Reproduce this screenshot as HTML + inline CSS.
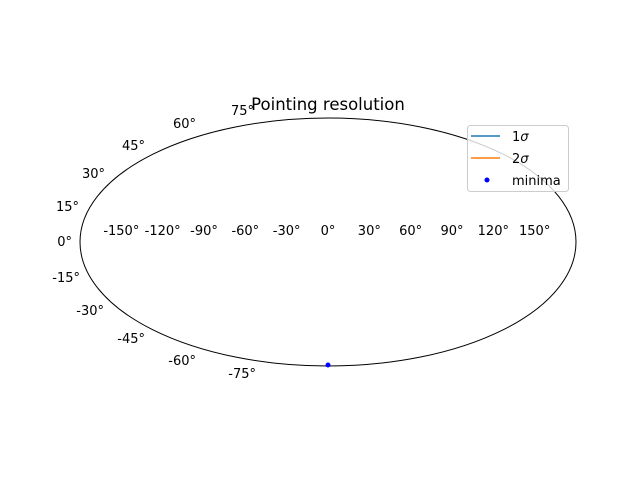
<!DOCTYPE html>
<html><head><meta charset="utf-8"><style>
body{margin:0;background:#fff}
svg text{font-family:"DejaVu Sans","Liberation Sans",sans-serif;fill:#000}
</style></head><body>
<svg width="640" height="480" viewBox="0 0 640 480">
<text x="328" y="110" font-size="16.5" text-anchor="middle">Pointing resolution</text>
<ellipse cx="328" cy="242" rx="248" ry="124" fill="none" stroke="#000" stroke-width="1"/>
<g id="lon"></g><g id="lat"></g><g id="marks"></g>
<g>
<rect x="467.5" y="125.5" width="101" height="66" rx="3" fill="#fff" fill-opacity="0.8" stroke="#ccc"/>
<line x1="471" y1="136" x2="500" y2="136" stroke="#1f77b4" stroke-width="1.5"/>
<text x="512" y="141" font-size="13">1<tspan font-style="italic">σ</tspan></text>
<line x1="471" y1="158" x2="500" y2="158" stroke="#ff7f0e" stroke-width="1.5"/>
<text x="512" y="163" font-size="13">2<tspan font-style="italic">σ</tspan></text>
<circle cx="487" cy="180" r="2.5" fill="#0000ff"/>
<text x="512" y="185" font-size="13">minima</text>
</g>
</svg>
<script>
const lonTicks=[-150,-120,-90,-60,-30,0,30,60,90,120,150];
const latTicks=[75,60,45,30,15,0,-15,-30,-45,-60,-75];
const minimaLon=[0];
const minimaLat=[-90];
const cx=328,cy=242,rx=248,ry=124;
function theta(phi){const p=phi*Math.PI/180;if(Math.abs(p)>=Math.PI/2-1e-9)return Math.sign(p)*Math.PI/2;let t=p;for(let i=0;i<50;i++){t-= (2*t+Math.sin(2*t)-Math.PI*Math.sin(p))/(2+2*Math.cos(2*t));}return t;}
function X(lon,lat){return cx+rx*(lon/180)*Math.cos(theta(lat));}
function Y(lat){return cy-ry*Math.sin(theta(lat));}
const NS="http://www.w3.org/2000/svg";
const lonG=document.getElementById('lon');
lonTicks.forEach(v=>{const t=document.createElementNS(NS,'text');


t.setAttribute('x',X(v,0));t.setAttribute('y',235);t.setAttribute('font-size','13');t.setAttribute('text-anchor','middle');t.textContent=v+'°';lonG.appendChild(t);});
const latG=document.getElementById('lat');
// label anchor layout (right edge x, center y) per tick
const latPos={75:[254,110],60:[196,123],45:[145,145],30:[105,173],15:[79,206],0:[72,241],'-15':[80,277],'-30':[104,310],'-45':[145,338],'-60':[196,360],'-75':[256,373]};
latTicks.forEach(v=>{const t=document.createElementNS(NS,'text');


const o=latPos[v]||[X(-180,v)-8,Y(v)];
t.setAttribute('x',o[0]);t.setAttribute('y',o[1]+5);t.setAttribute('font-size','13');t.setAttribute('text-anchor','end');t.textContent=v+'°';latG.appendChild(t);});
const mG=document.getElementById('marks');
minimaLon.forEach((lo,i)=>{const c=document.createElementNS(NS,'circle');


c.setAttribute('cx',X(lo,minimaLat[i]));c.setAttribute('cy',Y(minimaLat[i])-1);c.setAttribute('r',2.5);c.setAttribute('fill','#0000ff');mG.appendChild(c);});
</script>
</body></html>
